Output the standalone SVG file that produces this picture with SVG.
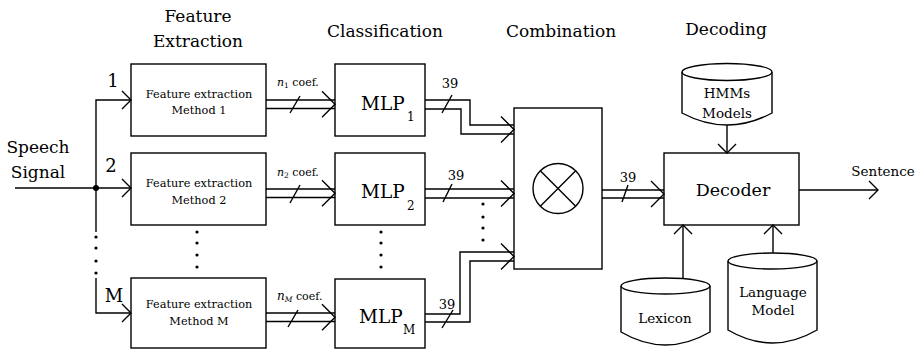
<svg xmlns="http://www.w3.org/2000/svg" width="918" height="349" viewBox="0 0 918 349" font-family="'DejaVu Serif', serif">
<style>
text{font-family:'DejaVu Serif',serif;fill:#000}
.t{font-size:17px;text-anchor:middle}
.fe{font-size:11.3px;text-anchor:middle}
.lb{font-size:18px;text-anchor:middle}
.sm{font-size:13px;text-anchor:middle}
.cf{font-size:11px}
.mlp{font-size:18.5px}
.sub{font-size:12px}
.db{font-size:13.5px;text-anchor:middle}
.box{fill:#fff;stroke:#000;stroke-width:1.4}
.ln{fill:none;stroke:#000;stroke-width:1.4}
.dot{fill:#000}
</style>
<defs>
<marker id="chev" markerWidth="14" markerHeight="22" refX="10" refY="10" orient="auto" markerUnits="userSpaceOnUse">
<path d="M1,1 L10,10 L1,19" fill="none" stroke="#000" stroke-width="1.4"/>
</marker>
<path id="dchev" d="M-13,-13 L0,0 L-13,13" fill="none" stroke="#000" stroke-width="1.4"/>
</defs>
<rect width="918" height="349" fill="#fff"/>

<g id="titles">
<text class="t" x="198" y="22">Feature</text>
<text class="t" x="198" y="47">Extraction</text>
<text class="t" x="385" y="37">Classification</text>
<text class="t" x="561" y="37">Combination</text>
<text class="t" x="726" y="35">Decoding</text>
</g>

<g id="input">
<text class="t" x="38" y="153">Speech</text>
<text class="t" x="38" y="178">Signal</text>
<text class="lb" x="113" y="87">1</text>
<text class="lb" x="111" y="172">2</text>
<text class="lb" x="114" y="302">M</text>
</g>

<g id="fe1"><rect class="box" x="131" y="64" width="135" height="72"/>
<text class="fe" x="199" y="98">Feature extraction</text><text class="fe" x="199" y="114">Method 1</text></g>
<g id="fe2"><rect class="box" x="131" y="153" width="135" height="72"/>
<text class="fe" x="199" y="187">Feature extraction</text><text class="fe" x="199" y="204">Method 2</text></g>
<g id="feM"><rect class="box" x="131" y="278" width="135" height="70"/>
<text class="fe" x="199" y="308">Feature extraction</text><text class="fe" x="199" y="325">Method M</text></g>

<g id="mlp1"><rect class="box" x="335" y="64" width="90" height="72"/>
<text class="mlp" x="361" y="110">MLP</text><text class="sub" x="407" y="121">1</text></g>
<g id="mlp2"><rect class="box" x="335" y="153" width="90" height="72"/>
<text class="mlp" x="361" y="198">MLP</text><text class="sub" x="407" y="210">2</text></g>
<g id="mlpM"><rect class="box" x="335" y="279" width="90" height="69"/>
<text class="mlp" x="359" y="323">MLP</text><text class="sub" x="403" y="334">M</text></g>

<g id="combination"><rect class="box" x="514" y="108" width="88" height="161"/>
<circle class="ln" cx="558" cy="188.5" r="25"/>
<path class="ln" d="M540.3,170.8 L575.7,206.2 M575.7,170.8 L540.3,206.2"/></g>

<g id="decoder"><rect class="box" x="664" y="153" width="135" height="72"/>
<text x="733" y="196" font-size="17.5" text-anchor="middle">Decoder</text></g>

<g id="hmms"><path class="box" d="M682,72 V113 Q727,137 772,113 V72"/>
<ellipse class="box" cx="727" cy="72" rx="45" ry="8.5"/>
<text class="db" x="727" y="98">HMMs</text>
<text class="db" x="727" y="118">Models</text></g>

<g id="lexicon"><path class="box" d="M621,286 V332 Q665.5,358 710,332 V286"/>
<ellipse class="box" cx="665.5" cy="286" rx="44.5" ry="8"/>
<text class="db" x="665" y="323">Lexicon</text></g>

<g id="language"><path class="box" d="M728,261 V330 Q772.5,356 817,330 V261"/>
<ellipse class="box" cx="772.5" cy="261" rx="44.5" ry="8"/>
<text class="db" x="773" y="297">Language</text>
<text class="db" x="773" y="315">Model</text></g>

<g id="sentence"><text class="db" x="883" y="176">Sentence</text></g>

<g id="connectors">
<path class="ln" d="M15,188 H131" marker-end="url(#chev)"/>
<path class="ln" d="M96,232 V100 H131" marker-end="url(#chev)"/>
<path class="ln" d="M96,278 V313 H131" marker-end="url(#chev)"/>
<circle class="dot" cx="96" cy="188" r="3"/>
<circle class="dot" cx="96" cy="237" r="1.6"/><circle class="dot" cx="96" cy="248" r="1.6"/>
<circle class="dot" cx="96" cy="261" r="1.6"/><circle class="dot" cx="96" cy="273" r="1.6"/>
<circle class="dot" cx="197" cy="232" r="1.6"/><circle class="dot" cx="197" cy="243" r="1.6"/>
<circle class="dot" cx="197" cy="255" r="1.6"/><circle class="dot" cx="197" cy="267" r="1.6"/>
<circle class="dot" cx="381" cy="232" r="1.6"/><circle class="dot" cx="381" cy="243" r="1.6"/>
<circle class="dot" cx="381" cy="255" r="1.6"/><circle class="dot" cx="381" cy="267" r="1.6"/>
<circle class="dot" cx="483" cy="204" r="1.6"/><circle class="dot" cx="483" cy="217" r="1.6"/>
<circle class="dot" cx="483" cy="228" r="1.6"/><circle class="dot" cx="483" cy="240" r="1.6"/>

<path class="ln" d="M266,100 H335 M266,108.5 H335 M290,113 L300,96"/>
<use href="#dchev" x="335" y="104.3"/>
<text class="cf" x="277" y="86"><tspan font-style="italic">n</tspan><tspan font-size="7.5" dy="2">1</tspan><tspan dy="-2"> coef.</tspan></text>

<path class="ln" d="M266,189 H335 M266,197.5 H335 M290,203 L300,185"/>
<use href="#dchev" x="335" y="193.3"/>
<text class="cf" x="277" y="176"><tspan font-style="italic">n</tspan><tspan font-size="7.5" dy="2">2</tspan><tspan dy="-2"> coef.</tspan></text>

<path class="ln" d="M266,313 H335 M266,321.5 H335 M288,327 L298,310"/>
<use href="#dchev" x="335" y="317.3"/>
<text class="cf" x="277" y="300"><tspan font-style="italic" font-size="12">n</tspan><tspan font-size="7.5" font-style="italic" dy="2">M</tspan><tspan dy="-2"> coef.</tspan></text>

<path class="ln" d="M425,100 H470 V125 H514 M425,109 H461 V134 H514 M442,113 L452,95"/>
<use href="#dchev" x="514" y="129.5"/>
<text class="sm" x="450" y="88">39</text>

<path class="ln" d="M425,189 H514 M425,198 H514 M443,202 L452,184"/>
<use href="#dchev" x="514" y="193.5"/>
<text class="sm" x="456" y="180">39</text>

<path class="ln" d="M425,314 H460 V252 H514 M425,322 H470 V261 H514 M442,328 L453,310"/>
<use href="#dchev" x="514" y="256.5"/>
<text class="sm" x="447" y="309">39</text>

<path class="ln" d="M602,190 H664 M602,198 H664 M622,202 L628,185"/>
<use href="#dchev" x="664" y="194"/>
<text class="sm" x="628" y="182">39</text>

<path class="ln" d="M799,190 H878" marker-end="url(#chev)"/>
<path class="ln" d="M727,125 V153" marker-end="url(#chev)"/>
<path class="ln" d="M683,278 V225" marker-end="url(#chev)"/>
<path class="ln" d="M773,253 V225" marker-end="url(#chev)"/>
</g>
</svg>
